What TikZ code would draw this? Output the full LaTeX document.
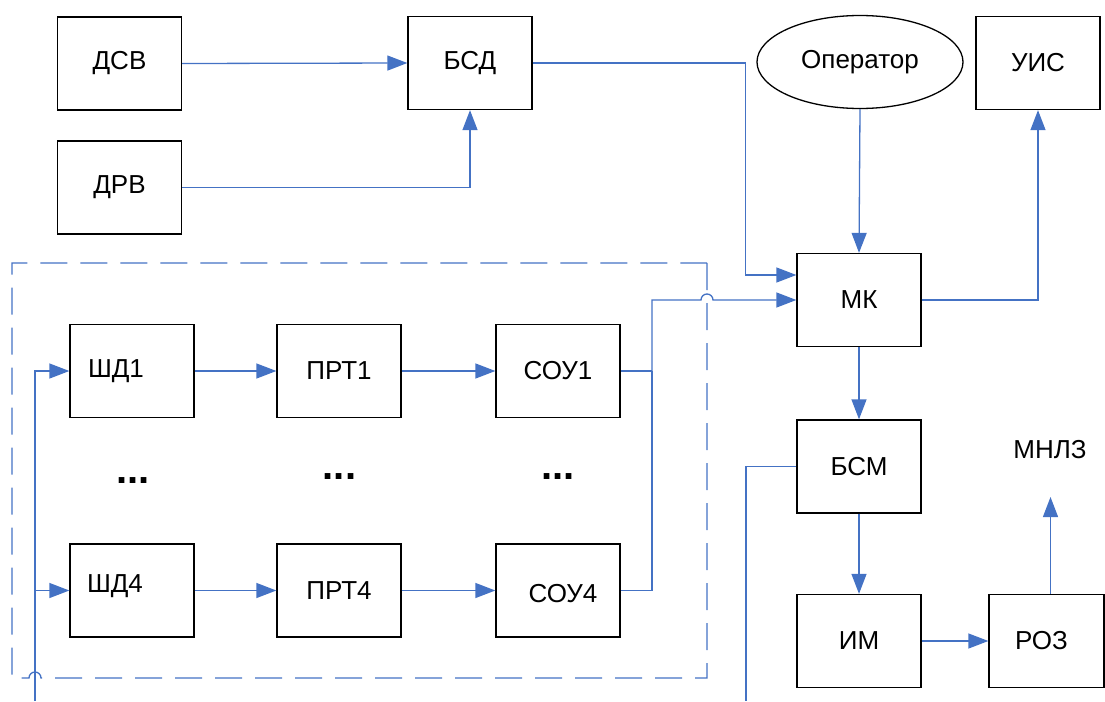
\documentclass[tikz,border=0pt]{standalone}
\usepackage{fontspec}
\setmainfont{Liberation Sans}
\usetikzlibrary{arrows.meta,shapes.geometric}
\definecolor{lblue}{RGB}{68,114,196}
\begin{document}
\begin{tikzpicture}[x=1pt,y=1pt,
  every node/.style={font=\fontsize{26}{30}\selectfont},
  blk/.style={draw=black,line width=1.3pt,minimum width=124pt,minimum height=93pt,inner sep=0pt},
  oval/.style={draw=black,line width=1.3pt,ellipse,minimum width=206pt,minimum height=93pt,inner sep=0pt},
  conn/.style={draw=lblue,line width=1.3pt},
  arr/.style={conn,-{Triangle[length=20pt,width=15pt]}},
  grp/.style={draw=lblue,line width=1.3pt,dash pattern=on 27pt off 13pt},
  dots/.style={anchor=base,font=\fontsize{40}{40}\selectfont\bfseries}]
\useasboundingbox (0,0) rectangle (1105,-701);
% top row
\node[blk] (dsv) at (119.5,-63.5) {ДСВ};
\node[blk] (drv) at (119.5,-187.5) {ДРВ};
\node[blk] (bsd) at (470,-63) {БСД};
\node[oval] (op) at (860,-62) {Оператор};
\node[blk] (uis) at (1038,-63) {УИС};
% right column
\node[blk] (mk) at (859,-300) {МК};
\node[blk] (bsm) at (859,-466.5) {БСМ};
\node[blk] (im) at (859,-641) {ИМ};
\node[blk,minimum width=115pt,label={[xshift=-5pt]center:РОЗ}] (roz) at (1046.5,-641) {};
\node (mnlz) at (1050,-450) {МНЛЗ};
\coordinate (mtip) at (1050.5,-497);
% group
\node[blk,label={[xshift=-16pt]center:ШД1}] (shd1) at (132,-371) {};
\node[blk] (prt1) at (339,-371) {ПРТ1};
\node[blk] (sou1) at (558,-371) {СОУ1};
\node[blk,label={[xshift=-17pt,yshift=4pt]center:ШД4}] (shd4) at (132,-590.5) {};
\node[blk] (prt4) at (339,-590.5) {ПРТ4};
\node[blk,label={[xshift=5pt,yshift=-3pt]center:СОУ4}] (sou4) at (558,-590.5) {};
\node[dots] (d1) at (133,-483) {...};
\node[dots] (d2) at (339.5,-479) {...};
\node[dots] (d3) at (558,-479) {...};
% dashed frame
\draw[grp] (707,-263) -- (707,-678) -- (41,-678) arc[start angle=0,end angle=180,radius=6pt] -- (12,-678) -- (12,-263) -- cycle;
% connectors top
\draw[arr] (dsv.east) -- (bsd.west);
\draw[arr] (drv.east) -| (bsd.south);
\draw[arr] (bsd.east) -- ++(213,0) |- ([yshift=25pt]mk.west);
\draw[arr] (op.south) -- (mk.north);
\draw[arr] (mk.east) -| (uis.south);
\draw[arr] (mk.south) -- (bsm.north);
\draw[arr] (bsm.south) -- (im.north);
\draw[arr] (im.east) -- (roz.west);
\draw[arr] ([xshift=4pt]roz.north) -- (mtip);
\coordinate (botR) at (746,-701);
\draw[conn] (bsm.west) -| (botR);
% group internal
\draw[arr] (shd1.east) -- (prt1.west);
\draw[arr] (prt1.east) -- (sou1.west);
\draw[arr] (shd4.east) -- (prt4.west);
\draw[arr] (prt4.east) -- (sou4.west);
\coordinate (j1) at (652,-371);
\coordinate (jt) at (652,-300);
\draw[conn] (sou1.east) -- (j1);
\draw[conn] (sou4.east) -| (j1);
\draw[arr] (j1) -- (jt) -- (701,-300) arc[start angle=180,end angle=0,radius=6pt] -- (mk.west);
% left feed
\coordinate (botL) at (35,-701);
\coordinate (j4) at (35,-590.5);
\draw[arr] (botL) |- (shd1.west);
\draw[arr] (j4) -- (shd4.west);
\end{tikzpicture}
\end{document}
